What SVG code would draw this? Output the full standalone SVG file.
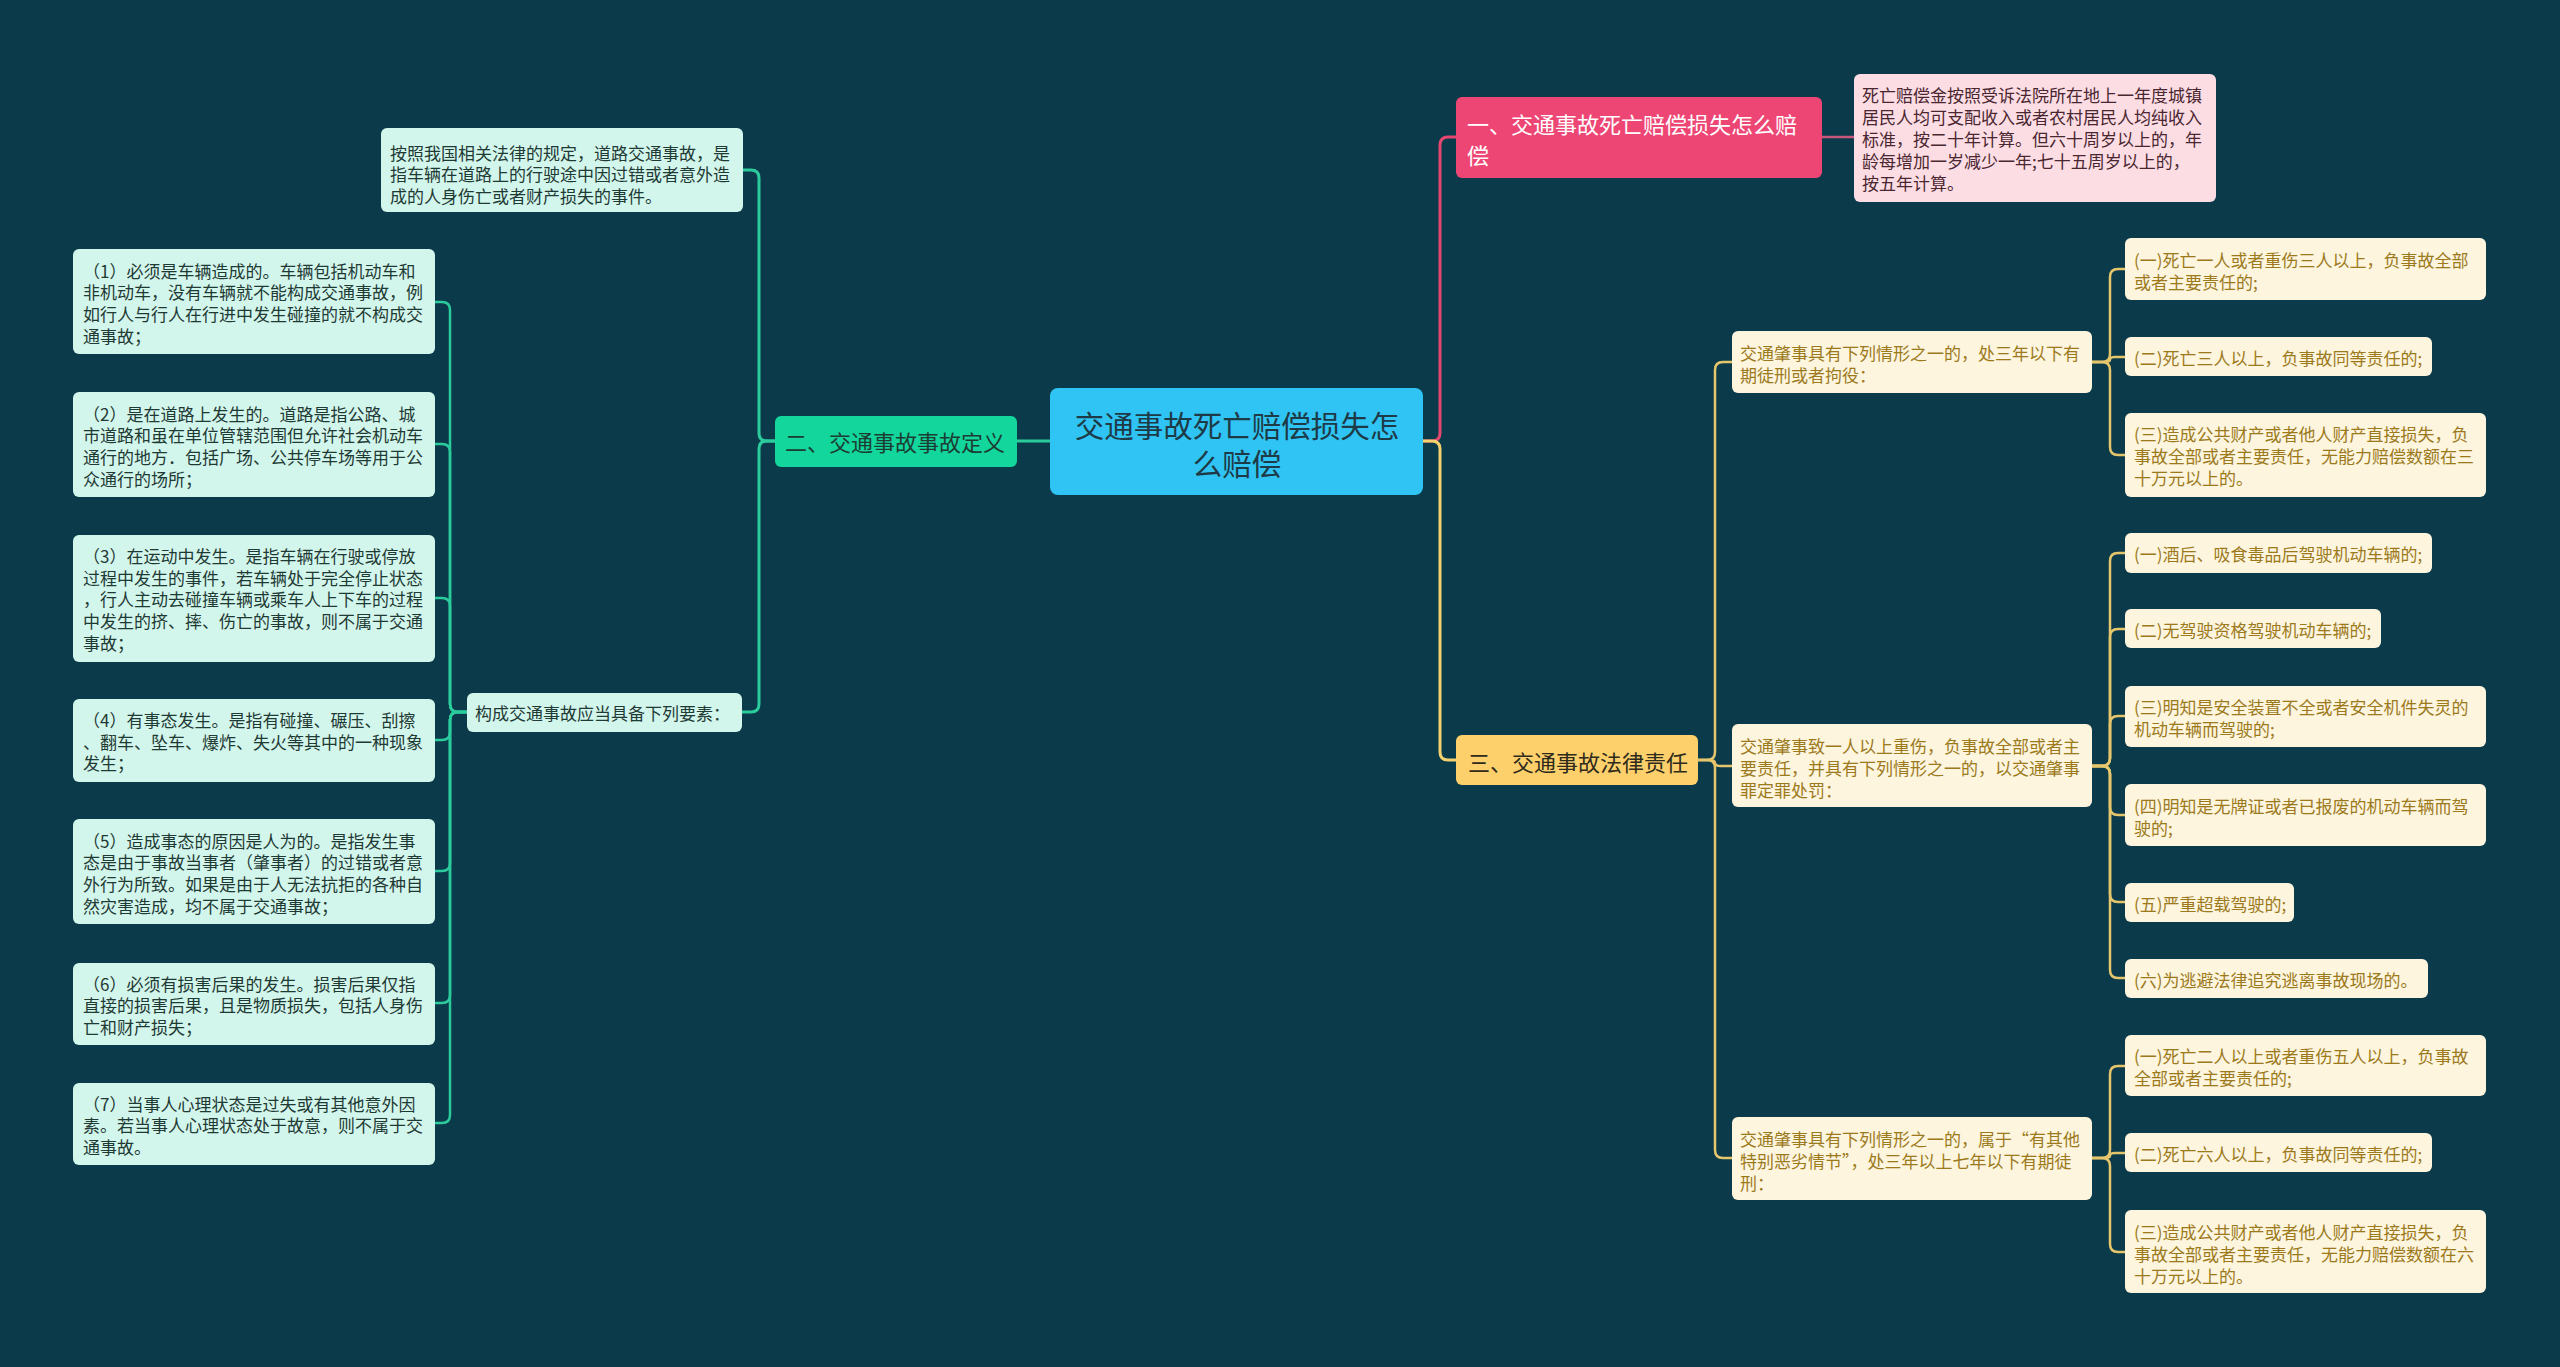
<svg xmlns="http://www.w3.org/2000/svg" width="2560" height="1367" viewBox="0 0 2560 1367">
<style>
text{font-family:"Noto Sans CJK SC","Noto Sans",sans-serif;dominant-baseline:central}
.bg{fill:#0B3A4B}
.root{fill:#2FC4F3}
.rootT{font-size:29.5px;fill:#1E3A46;text-anchor:middle}
.g2{fill:#12D69C}
.g2T{font-size:22px;fill:#1D3D33}
.mint{fill:#D3F6EC}
.mintT{font-size:17px;fill:#1F3A35}
.r1{fill:#EE4674}
.r1T{font-size:22px;fill:#FFFFFF}
.pink{fill:#FCDDE4}
.pinkT{font-size:17px;fill:#4A2630}
.y3{fill:#FDD06B}
.y3T{font-size:22px;fill:#2E2A1C}
.cream{fill:#FDF5DE}
.creamT{font-size:17px;fill:#9C7A1C}
.cT{fill:none;stroke:#2BCB9C;stroke-width:2.5}
.cTm{fill:none;stroke:#2BCB9C;stroke-width:3}
.cP{fill:none;stroke:#E4476F;stroke-width:3}
.cPs{fill:none;stroke:#C8577A;stroke-width:2.5}
.cY{fill:none;stroke:#F2D16E;stroke-width:3}
.cYs{fill:none;stroke:#E6C66C;stroke-width:2.5}
</style>
<rect class="bg" x="0" y="0" width="2560" height="1367"/>

<g id="connectors">
  <path class="cTm" d="M1050,441 H1017"/>
  <path class="cTm" d="M775,441 H767 Q759,441 759,433 V178 Q759,170 751,170 H743"/>
  <path class="cTm" d="M775,441 H767 Q759,441 759,449 V704 Q759,712 751,712 H742"/>
  <path class="cT" d="M467,712 H458 Q450,712 450,704 V310 Q450,302 442,302 H435"/>
  <path class="cT" d="M467,712 H458 Q450,712 450,704 V452 Q450,444 442,444 H435"/>
  <path class="cT" d="M467,712 H458 Q450,712 450,704 V606 Q450,598 442,598 H435"/>
  <path class="cT" d="M467,712 H458 Q450,712 450,720 V732 Q450,740 442,740 H435"/>
  <path class="cT" d="M467,712 H458 Q450,712 450,720 V863 Q450,871 442,871 H435"/>
  <path class="cT" d="M467,712 H458 Q450,712 450,720 V995 Q450,1003 442,1003 H435"/>
  <path class="cT" d="M467,712 H458 Q450,712 450,720 V1115 Q450,1123 442,1123 H435"/>

  <path class="cP" d="M1422,441 H1432 Q1440,441 1440,433 V145 Q1440,137 1448,137 H1456"/>
  <path class="cPs" d="M1822,137 H1854"/>
  <path class="cY" d="M1422,441 H1432 Q1440,441 1440,449 V752 Q1440,760 1448,760 H1456"/>

  <path class="cYs" d="M1698,760 H1707 Q1715,760 1715,752 V370 Q1715,362 1723,362 H1732"/>
  <path class="cYs" d="M1698,760 H1709 Q1715,760 1715,763 Q1715,766 1721,766 H1732"/>
  <path class="cYs" d="M1698,760 H1707 Q1715,760 1715,768 V1150 Q1715,1158 1723,1158 H1732"/>

  <path class="cYs" d="M2092,362 H2102 Q2110,362 2110,354 V277 Q2110,269 2118,269 H2125"/>
  <path class="cYs" d="M2092,362 H2105 Q2110,362 2110,359.5 Q2110,357 2115,357 H2125"/>
  <path class="cYs" d="M2092,362 H2102 Q2110,362 2110,370 V447 Q2110,455 2118,455 H2125"/>

  <path class="cYs" d="M2092,766 H2102 Q2110,766 2110,758 V561 Q2110,553 2118,553 H2125"/>
  <path class="cYs" d="M2092,766 H2102 Q2110,766 2110,758 V637 Q2110,629 2118,629 H2125"/>
  <path class="cYs" d="M2092,766 H2102 Q2110,766 2110,758 V724 Q2110,716 2118,716 H2125"/>
  <path class="cYs" d="M2092,766 H2102 Q2110,766 2110,774 V807 Q2110,815 2118,815 H2125"/>
  <path class="cYs" d="M2092,766 H2102 Q2110,766 2110,774 V894 Q2110,902 2118,902 H2125"/>
  <path class="cYs" d="M2092,766 H2102 Q2110,766 2110,774 V970 Q2110,978 2118,978 H2125"/>

  <path class="cYs" d="M2092,1158 H2102 Q2110,1158 2110,1150 V1074 Q2110,1066 2118,1066 H2125"/>
  <path class="cYs" d="M2092,1158 H2105 Q2110,1158 2110,1155.5 Q2110,1153 2115,1153 H2125"/>
  <path class="cYs" d="M2092,1158 H2102 Q2110,1158 2110,1166 V1244 Q2110,1252 2118,1252 H2125"/>
</g>

<g id="root">
  <rect class="root" x="1050" y="388" width="373" height="107" rx="8"/>
  <text class="rootT" x="1237" y="424">交通事故死亡赔偿损失怎</text>
  <text class="rootT" x="1237" y="462">么赔偿</text>
</g>

<g id="n2">
  <rect class="g2" x="775" y="416" width="242" height="51" rx="6"/>
  <text class="g2T" x="785" y="441">二、交通事故事故定义</text>
</g>

<g id="n2a">
  <rect class="mint" x="381" y="128" width="362" height="84" rx="6"/>
  <text class="mintT" x="390" y="152">按照我国相关法律的规定，道路交通事故，是</text>
  <text class="mintT" x="390" y="173.5">指车辆在道路上的行驶途中因过错或者意外造</text>
  <text class="mintT" x="390" y="195">成的人身伤亡或者财产损失的事件。</text>
</g>

<g id="n2b">
  <rect class="mint" x="467" y="693" width="275" height="39" rx="6"/>
  <text class="mintT" x="475" y="712.5">构成交通事故应当具备下列要素：</text>
</g>

<g id="l1">
  <rect class="mint" x="73" y="249" width="362" height="105" rx="6"/>
  <text class="mintT" x="83" y="270">（1）必须是车辆造成的。车辆包括机动车和</text>
  <text class="mintT" x="83" y="291.7">非机动车，没有车辆就不能构成交通事故，例</text>
  <text class="mintT" x="83" y="313.4">如行人与行人在行进中发生碰撞的就不构成交</text>
  <text class="mintT" x="83" y="335">通事故；</text>
</g>
<g id="l2">
  <rect class="mint" x="73" y="392" width="362" height="105" rx="6"/>
  <text class="mintT" x="83" y="413">（2）是在道路上发生的。道路是指公路、城</text>
  <text class="mintT" x="83" y="434.7">市道路和虽在单位管辖范围但允许社会机动车</text>
  <text class="mintT" x="83" y="456.4">通行的地方．包括广场、公共停车场等用于公</text>
  <text class="mintT" x="83" y="478">众通行的场所；</text>
</g>
<g id="l3">
  <rect class="mint" x="73" y="535" width="362" height="127" rx="6"/>
  <text class="mintT" x="83" y="555.5">（3）在运动中发生。是指车辆在行驶或停放</text>
  <text class="mintT" x="83" y="577.2">过程中发生的事件，若车辆处于完全停止状态</text>
  <text class="mintT" x="83" y="598.9">，行人主动去碰撞车辆或乘车人上下车的过程</text>
  <text class="mintT" x="83" y="620.6">中发生的挤、摔、伤亡的事故，则不属于交通</text>
  <text class="mintT" x="83" y="642.3">事故；</text>
</g>
<g id="l4">
  <rect class="mint" x="73" y="699" width="362" height="83" rx="6"/>
  <text class="mintT" x="83" y="719.5">（4）有事态发生。是指有碰撞、碾压、刮擦</text>
  <text class="mintT" x="83" y="741.2">、翻车、坠车、爆炸、失火等其中的一种现象</text>
  <text class="mintT" x="83" y="762.9">发生；</text>
</g>
<g id="l5">
  <rect class="mint" x="73" y="819" width="362" height="105" rx="6"/>
  <text class="mintT" x="83" y="840">（5）造成事态的原因是人为的。是指发生事</text>
  <text class="mintT" x="83" y="861.7">态是由于事故当事者（肇事者）的过错或者意</text>
  <text class="mintT" x="83" y="883.4">外行为所致。如果是由于人无法抗拒的各种自</text>
  <text class="mintT" x="83" y="905.1">然灾害造成，均不属于交通事故；</text>
</g>
<g id="l6">
  <rect class="mint" x="73" y="963" width="362" height="82" rx="6"/>
  <text class="mintT" x="83" y="983">（6）必须有损害后果的发生。损害后果仅指</text>
  <text class="mintT" x="83" y="1004.7">直接的损害后果，且是物质损失，包括人身伤</text>
  <text class="mintT" x="83" y="1026.4">亡和财产损失；</text>
</g>
<g id="l7">
  <rect class="mint" x="73" y="1083" width="362" height="82" rx="6"/>
  <text class="mintT" x="83" y="1103">（7）当事人心理状态是过失或有其他意外因</text>
  <text class="mintT" x="83" y="1124.7">素。若当事人心理状态处于故意，则不属于交</text>
  <text class="mintT" x="83" y="1146.4">通事故。</text>
</g>

<g id="n1">
  <rect class="r1" x="1456" y="97" width="366" height="81" rx="6"/>
  <text class="r1T" x="1467" y="123">一、交通事故死亡赔偿损失怎么赔</text>
  <text class="r1T" x="1467" y="154">偿</text>
</g>
<g id="n1a">
  <rect class="pink" x="1854" y="74" width="362" height="128" rx="6"/>
  <text class="pinkT" x="1862" y="94">死亡赔偿金按照受诉法院所在地上一年度城镇</text>
  <text class="pinkT" x="1862" y="116">居民人均可支配收入或者农村居民人均纯收入</text>
  <text class="pinkT" x="1862" y="138">标准，按二十年计算。但六十周岁以上的，年</text>
  <text class="pinkT" x="1862" y="160">龄每增加一岁减少一年;七十五周岁以上的，</text>
  <text class="pinkT" x="1862" y="182">按五年计算。</text>
</g>

<g id="n3">
  <rect class="y3" x="1456" y="735" width="242" height="50" rx="6"/>
  <text class="y3T" x="1468" y="761">三、交通事故法律责任</text>
</g>

<g id="n3a">
  <rect class="cream" x="1732" y="331" width="360" height="62" rx="6"/>
  <text class="creamT" x="1740" y="352.5">交通肇事具有下列情形之一的，处三年以下有</text>
  <text class="creamT" x="1740" y="374.5">期徒刑或者拘役：</text>
</g>
<g id="n3a1">
  <rect class="cream" x="2125" y="238" width="361" height="62" rx="6"/>
  <text class="creamT" x="2134" y="259">(一)死亡一人或者重伤三人以上，负事故全部</text>
  <text class="creamT" x="2134" y="281">或者主要责任的;</text>
</g>
<g id="n3a2">
  <rect class="cream" x="2125" y="337" width="307" height="39" rx="6"/>
  <text class="creamT" x="2134" y="357">(二)死亡三人以上，负事故同等责任的;</text>
</g>
<g id="n3a3">
  <rect class="cream" x="2125" y="413" width="361" height="84" rx="6"/>
  <text class="creamT" x="2134" y="433.5">(三)造成公共财产或者他人财产直接损失，负</text>
  <text class="creamT" x="2134" y="455.5">事故全部或者主要责任，无能力赔偿数额在三</text>
  <text class="creamT" x="2134" y="477.5">十万元以上的。</text>
</g>

<g id="n3b">
  <rect class="cream" x="1732" y="724" width="360" height="83" rx="6"/>
  <text class="creamT" x="1740" y="745">交通肇事致一人以上重伤，负事故全部或者主</text>
  <text class="creamT" x="1740" y="767">要责任，并具有下列情形之一的，以交通肇事</text>
  <text class="creamT" x="1740" y="789">罪定罪处罚：</text>
</g>
<g id="n3b1">
  <rect class="cream" x="2125" y="533" width="307" height="40" rx="6"/>
  <text class="creamT" x="2134" y="553">(一)酒后、吸食毒品后驾驶机动车辆的;</text>
</g>
<g id="n3b2">
  <rect class="cream" x="2125" y="609" width="256" height="39" rx="6"/>
  <text class="creamT" x="2134" y="629">(二)无驾驶资格驾驶机动车辆的;</text>
</g>
<g id="n3b3">
  <rect class="cream" x="2125" y="686" width="361" height="61" rx="6"/>
  <text class="creamT" x="2134" y="706.5">(三)明知是安全装置不全或者安全机件失灵的</text>
  <text class="creamT" x="2134" y="728.5">机动车辆而驾驶的;</text>
</g>
<g id="n3b4">
  <rect class="cream" x="2125" y="784" width="361" height="62" rx="6"/>
  <text class="creamT" x="2134" y="805">(四)明知是无牌证或者已报废的机动车辆而驾</text>
  <text class="creamT" x="2134" y="827">驶的;</text>
</g>
<g id="n3b5">
  <rect class="cream" x="2125" y="883" width="169" height="39" rx="6"/>
  <text class="creamT" x="2134" y="903">(五)严重超载驾驶的;</text>
</g>
<g id="n3b6">
  <rect class="cream" x="2125" y="959" width="303" height="39" rx="6"/>
  <text class="creamT" x="2134" y="979">(六)为逃避法律追究逃离事故现场的。</text>
</g>

<g id="n3c">
  <rect class="cream" x="1732" y="1117" width="360" height="83" rx="6"/>
  <text class="creamT" x="1740" y="1138">交通肇事具有下列情形之一的，属于“有其他</text>
  <text class="creamT" x="1740" y="1160">特别恶劣情节”，处三年以上七年以下有期徒</text>
  <text class="creamT" x="1740" y="1182">刑：</text>
</g>
<g id="n3c1">
  <rect class="cream" x="2125" y="1035" width="361" height="61" rx="6"/>
  <text class="creamT" x="2134" y="1055.5">(一)死亡二人以上或者重伤五人以上，负事故</text>
  <text class="creamT" x="2134" y="1077.5">全部或者主要责任的;</text>
</g>
<g id="n3c2">
  <rect class="cream" x="2125" y="1133" width="307" height="39" rx="6"/>
  <text class="creamT" x="2134" y="1153">(二)死亡六人以上，负事故同等责任的;</text>
</g>
<g id="n3c3">
  <rect class="cream" x="2125" y="1210" width="361" height="83" rx="6"/>
  <text class="creamT" x="2134" y="1231">(三)造成公共财产或者他人财产直接损失，负</text>
  <text class="creamT" x="2134" y="1253">事故全部或者主要责任，无能力赔偿数额在六</text>
  <text class="creamT" x="2134" y="1275">十万元以上的。</text>
</g>
</svg>
